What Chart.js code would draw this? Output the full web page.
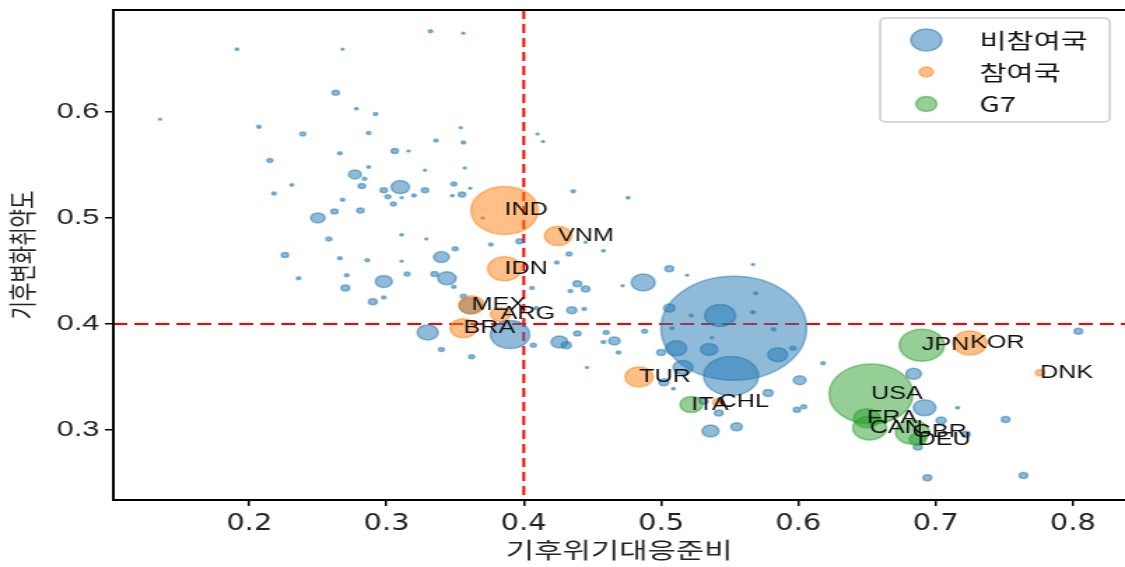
<!DOCTYPE html>
<html>
<head>
<meta charset="utf-8">
<script src="https://cdn.jsdelivr.net/npm/chart.js@4/dist/chart.umd.min.js"></script>
<style>
  html, body { margin: 0; padding: 0; background: #fff; }
</style>
</head>
<body>
<canvas id="chart" width="804" height="567" style="width:1125px;height:567px;display:block"></canvas>
<script>
// non-participating countries (no labels)
const nonX = [0.332, 0.356, 0.191, 0.268, 0.135, 0.263, 0.278, 0.292, 0.207, 0.239,
  0.287, 0.354, 0.215, 0.266, 0.306, 0.316, 0.336, 0.356, 0.328, 0.357,
  0.287, 0.277, 0.284, 0.282, 0.310, 0.298, 0.301, 0.311, 0.320, 0.328,
  0.349, 0.361, 0.348, 0.355, 0.231, 0.218, 0.268, 0.305, 0.262, 0.281,
  0.250, 0.370, 0.258, 0.311, 0.329, 0.376, 0.397, 0.226, 0.266, 0.286,
  0.340, 0.236, 0.271, 0.270, 0.298, 0.298, 0.290, 0.350, 0.311, 0.315,
  0.335, 0.344, 0.356, 0.349, 0.361, 0.330, 0.390, 0.340, 0.362, 0.407,
  0.426, 0.431, 0.439, 0.460, 0.466, 0.469, 0.458, 0.488, 0.500, 0.435,
  0.444, 0.439, 0.445, 0.434, 0.424, 0.436, 0.476, 0.445, 0.458, 0.433,
  0.487, 0.506, 0.519, 0.472, 0.567, 0.409, 0.406, 0.506, 0.502, 0.509,
  0.553, 0.543, 0.511, 0.535, 0.585, 0.569, 0.567, 0.582, 0.596, 0.537,
  0.522, 0.508, 0.516, 0.551, 0.578, 0.601, 0.618, 0.599, 0.604, 0.536,
  0.555, 0.531, 0.542, 0.804, 0.751, 0.716, 0.722, 0.764, 0.694, 0.684,
  0.692, 0.704, 0.687, 0.446, 0.410, 0.414];
const nonY = [0.676, 0.674, 0.659, 0.659, 0.593, 0.618, 0.603, 0.598, 0.586, 0.579,
  0.580, 0.585, 0.554, 0.561, 0.563, 0.563, 0.573, 0.571, 0.545, 0.547,
  0.548, 0.541, 0.537, 0.530, 0.529, 0.526, 0.520, 0.519, 0.521, 0.526,
  0.532, 0.528, 0.521, 0.522, 0.531, 0.523, 0.517, 0.513, 0.506, 0.507,
  0.500, 0.500, 0.480, 0.484, 0.480, 0.475, 0.478, 0.465, 0.462, 0.460,
  0.463, 0.443, 0.446, 0.434, 0.440, 0.425, 0.421, 0.471, 0.459, 0.447,
  0.447, 0.443, 0.426, 0.435, 0.417, 0.392, 0.390, 0.376, 0.369, 0.380,
  0.383, 0.380, 0.391, 0.392, 0.384, 0.373, 0.383, 0.393, 0.373, 0.413,
  0.414, 0.438, 0.433, 0.431, 0.458, 0.525, 0.519, 0.477, 0.469, 0.466,
  0.439, 0.452, 0.446, 0.436, 0.456, 0.415, 0.434, 0.415, 0.345, 0.339,
  0.396, 0.408, 0.377, 0.376, 0.371, 0.429, 0.411, 0.395, 0.377, 0.387,
  0.408, 0.396, 0.359, 0.351, 0.335, 0.347, 0.363, 0.319, 0.322, 0.299,
  0.303, 0.327, 0.316, 0.393, 0.310, 0.321, 0.296, 0.257, 0.255, 0.353,
  0.321, 0.309, 0.284, 0.359, 0.579, 0.572];
const nonSize = [1.5, 1, 1.2, 1, 1, 2.5, 1.2, 1.5, 1.5, 2,
  1.5, 1, 2, 1.5, 2.5, 1, 1.5, 1.5, 1, 1,
  1.2, 4.5, 1.5, 2.5, 6.5, 2.5, 2, 1, 1.5, 2.5,
  2, 1, 1.2, 2.5, 1.2, 1.5, 1.5, 2, 2.5, 2.5,
  5, 1, 2, 1.2, 1, 1.5, 2.5, 2.5, 1.5, 1.5,
  5.5, 1.5, 1.5, 3, 6, 1.5, 3, 2, 1, 2,
  2.5, 6.5, 2, 1.5, 8, 7.5, 14, 2, 2, 2,
  6, 3.5, 2.5, 2, 4, 1.5, 1.5, 2, 3, 3.5,
  1.5, 3, 3, 1.5, 1.5, 1.5, 1.2, 1, 1.2, 2,
  8.5, 3, 1, 1, 1, 1.5, 1.5, 4, 3.5, 1.2,
  52, 11, 7.5, 6, 7, 1.2, 1.5, 1.5, 2, 1,
  1.2, 1.2, 7, 19.5, 3.5, 4.5, 1.5, 2.5, 2, 6,
  4, 3, 3, 3, 3, 1.2, 3, 3, 3, 5.5,
  8, 3.5, 3, 1, 1, 1];

// participating countries
const partCodes = ['IND', 'VNM', 'IDN', 'MEX', 'ARG', 'BRA', 'TUR', 'CHL', 'KOR', 'DNK'];
const partX = [0.386, 0.425, 0.386, 0.362, 0.383, 0.356, 0.484, 0.542, 0.725, 0.776];
const partY = [0.507, 0.483, 0.452, 0.418, 0.409, 0.396, 0.350, 0.326, 0.382, 0.354];
const partSize = [24, 9.7, 12, 9, 7, 9.5, 10, 4, 12, 3];

// G7
const g7Codes = ['USA', 'JPN', 'ITA', 'FRA', 'CAN', 'GBR', 'DEU'];
const g7X = [0.653, 0.690, 0.522, 0.650, 0.652, 0.683, 0.687];
const g7Y = [0.334, 0.380, 0.324, 0.311, 0.302, 0.298, 0.291];
const g7Size = [30, 16, 8, 9.5, 12, 12, 6];

const seriesNames = ['비참여국', '참여국', 'G7'];
const xTicks = [0.2, 0.3, 0.4, 0.5, 0.6, 0.7, 0.8];
const yTicks = [0.3, 0.4, 0.5, 0.6];
const xCut = 0.4;
const yCut = 0.4;

const toPoints = (xs, ys, rs) => xs.map((x, i) => ({ x: x, y: ys[i], r: rs[i] }));

const BLUE = 'rgba(31,119,180,0.5)';
const ORANGE = 'rgba(255,127,14,0.5)';
const GREEN = 'rgba(44,160,44,0.5)';

const KR = "'Noto Sans CJK KR', sans-serif";
const LAT = "'Liberation Sans', Arial, sans-serif";

// big bubbles should not shrink the plot area
Chart.BubbleController.prototype.getMaxOverflow = function () { return false; };

// red dashed cut lines + frame
const guides = {
  id: 'guides',
  beforeDatasetsDraw(chart) {
    const { ctx, chartArea: a, scales } = chart;
    ctx.save();
    ctx.strokeStyle = '#ff0000';
    ctx.lineWidth = 2;
    ctx.setLineDash([9, 5]);
    const px = scales.x.getPixelForValue(xCut);
    ctx.beginPath(); ctx.moveTo(px, a.top); ctx.lineTo(px, a.bottom); ctx.stroke();
    ctx.setLineDash([10, 5]);
    const py = scales.y.getPixelForValue(yCut);
    ctx.beginPath(); ctx.moveTo(a.left, py); ctx.lineTo(a.right, py); ctx.stroke();
    ctx.restore();
  },
  afterDraw(chart) {
    const { ctx, chartArea: a } = chart;
    ctx.save();
    ctx.strokeStyle = '#000';
    ctx.lineWidth = 2;
    ctx.beginPath();
    ctx.moveTo(a.right + 2, a.top);
    ctx.lineTo(a.left, a.top);
    ctx.lineTo(a.left, a.bottom);
    ctx.lineTo(a.right + 2, a.bottom);
    ctx.stroke();
    ctx.restore();
  }
};

// country codes at their points
const codeLabels = {
  id: 'codeLabels',
  afterDatasetsDraw(chart) {
    const { ctx, scales } = chart;
    ctx.save();
    ctx.fillStyle = '#111';
    ctx.font = '18px ' + LAT;
    ctx.textAlign = 'left';
    ctx.textBaseline = 'middle';
    chart.data.datasets.forEach(ds => {
      if (!ds.codes) return;
      ds.data.forEach((p, i) => {
        ctx.fillText(ds.codes[i], scales.x.getPixelForValue(p.x), scales.y.getPixelForValue(p.y));
      });
    });
    ctx.restore();
  }
};

// legend box in the upper right corner
const cornerLegend = {
  id: 'cornerLegend',
  afterDraw(chart) {
    const { ctx, chartArea: a } = chart;
    const markR = [11, 5, 7.5];
    const w = 164, h = 104;
    const x0 = a.right - 11 - w, y0 = a.top + 8;
    ctx.save();
    ctx.beginPath();
    ctx.roundRect(x0, y0, w, h, 4);
    ctx.fillStyle = 'rgba(255,255,255,0.85)';
    ctx.fill();
    ctx.strokeStyle = '#cccccc';
    ctx.lineWidth = 1.5;
    ctx.stroke();
    chart.data.datasets.forEach((ds, i) => {
      const cy = y0 + 22 + i * 32;
      ctx.beginPath();
      ctx.arc(x0 + 33, cy, markR[i], 0, Math.PI * 2);
      ctx.fillStyle = ds.backgroundColor;
      ctx.fill();
      ctx.lineWidth = 1.5;
      ctx.strokeStyle = ds.borderColor;
      ctx.stroke();
      ctx.fillStyle = '#111';
      ctx.font = '21px ' + KR;
      ctx.textBaseline = 'middle';
      ctx.fillText(ds.label, x0 + 71, cy);
    });
    ctx.restore();
  }
};

new Chart(document.getElementById('chart'), {
  type: 'bubble',
  data: {
    datasets: [
      { label: seriesNames[0], data: toPoints(nonX, nonY, nonSize), backgroundColor: BLUE, borderColor: BLUE, borderWidth: 1.5, order: 3 },
      { label: seriesNames[1], codes: partCodes, data: toPoints(partX, partY, partSize), backgroundColor: ORANGE, borderColor: ORANGE, borderWidth: 1.5, order: 2 },
      { label: seriesNames[2], codes: g7Codes, data: toPoints(g7X, g7Y, g7Size), backgroundColor: GREEN, borderColor: GREEN, borderWidth: 1.5, order: 1 }
    ]
  },
  options: {
    responsive: false,
    animation: false,
    devicePixelRatio: 1,
    events: [],
    layout: { padding: { top: 10, left: 0, right: 0, bottom: 0 } },
    plugins: { legend: { display: false }, tooltip: { enabled: false } },
    scales: {
      x: {
        type: 'linear',
        min: 0.101,
        max: 0.838,
        afterBuildTicks: s => { s.ticks = xTicks.map(v => ({ value: v })); },
        afterFit: s => { s.height = 67; s.paddingRight = 0; s.paddingLeft = 0; },
        grid: { drawOnChartArea: false, drawTicks: true, tickLength: 6, color: '#000', lineWidth: 1.5 },
        border: { display: false },
        ticks: { color: '#222', padding: 4, font: { family: "'Liberation Sans Narrow', 'DejaVu Sans Condensed', sans-serif", size: 23 }, callback: v => v.toFixed(1) },
        title: { display: true, text: '기후위기대응준비', color: '#222', font: { family: KR, size: 22 }, padding: { top: 0, bottom: 4 } }
      },
      y: {
        type: 'linear',
        min: 0.234,
        max: 0.696,
        afterBuildTicks: s => { s.ticks = yTicks.map(v => ({ value: v })); },
        afterFit: s => { s.width = 81; s.paddingTop = 0; s.paddingBottom = 0; },
        grid: { drawOnChartArea: false, drawTicks: true, tickLength: 6, color: '#000', lineWidth: 1.5 },
        border: { display: false },
        ticks: { color: '#222', padding: 4, font: { family: LAT, size: 22 }, callback: v => v.toFixed(1) },
        title: { display: true, text: '기후변화취약도', color: '#222', font: { family: KR, size: 20 }, padding: { top: 4, bottom: 0 } }
      }
    }
  },
  plugins: [guides, codeLabels, cornerLegend]
});
</script>
</body>
</html>
